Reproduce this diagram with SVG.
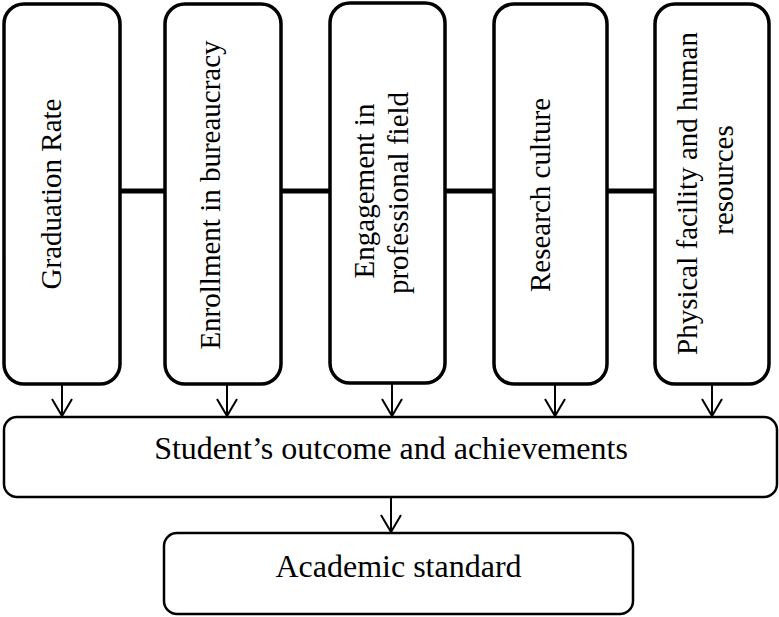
<svg xmlns="http://www.w3.org/2000/svg" width="779" height="617" viewBox="0 0 779 617">
<style>
.top{fill:#fff;stroke:#000;stroke-width:3.5}
.bot{fill:#fff;stroke:#000;stroke-width:2.5}
.t{font-family:"Liberation Serif","Times New Roman",serif;fill:#000}
.v{font-size:29px;text-anchor:middle}
.h{font-size:32px;text-anchor:middle}
.link{stroke:#000;stroke-width:5;fill:none}
.arr{stroke:#000;stroke-width:2;fill:none}
</style>
<rect width="779" height="617" fill="#fff"/>
<g id="connectors">
<line class="link" x1="120" y1="191" x2="165" y2="191"/>
<line class="link" x1="281" y1="191" x2="330" y2="191"/>
<line class="link" x1="445" y1="191" x2="494" y2="191"/>
<line class="link" x1="607" y1="191" x2="655" y2="191"/>
<path class="arr" d="M62 384V416M52 399L62 416L72 399"/>
<path class="arr" d="M227 384V416M217 399L227 416L237 399"/>
<path class="arr" d="M392 383V416M382 399L392 416L402 399"/>
<path class="arr" d="M555 384V416M545 399L555 416L565 399"/>
<path class="arr" d="M712 384V416M702 399L712 416L722 399"/>
<path class="arr" d="M391 497V532M381 515L391 532L401 515"/>
</g>
<g id="n1"><rect class="top" x="4" y="4" width="116" height="380" rx="20"/>
<text class="t v" transform="translate(60.5,194) rotate(-90)">Graduation Rate</text></g>
<g id="n2"><rect class="top" x="165" y="4" width="116" height="380" rx="20"/>
<text class="t v" transform="translate(220,195) rotate(-90)">Enrollment in bureaucracy</text></g>
<g id="n3"><rect class="top" x="330" y="3" width="115" height="380" rx="20"/>
<text class="t v" transform="translate(374,191) rotate(-90)">Engagement in</text>
<text class="t v" transform="translate(408,193) rotate(-90)">professional field</text></g>
<g id="n4"><rect class="top" x="494" y="4" width="113" height="380" rx="20"/>
<text class="t v" transform="translate(550,195) rotate(-90)">Research culture</text></g>
<g id="n5"><rect class="top" x="655" y="4" width="114" height="380" rx="20"/>
<text class="t v" transform="translate(697,193.5) rotate(-90)">Physical facility and human</text>
<text class="t v" transform="translate(733,180) rotate(-90)">resources</text></g>
<g id="n6"><rect class="bot" x="4" y="417" width="773" height="80" rx="13"/>
<text class="t h" x="391" y="459">Student’s outcome and achievements</text></g>
<g id="n7"><rect class="bot" x="164" y="533" width="469" height="81" rx="13"/>
<text class="t h" x="398.5" y="577">Academic standard</text></g>
</svg>
